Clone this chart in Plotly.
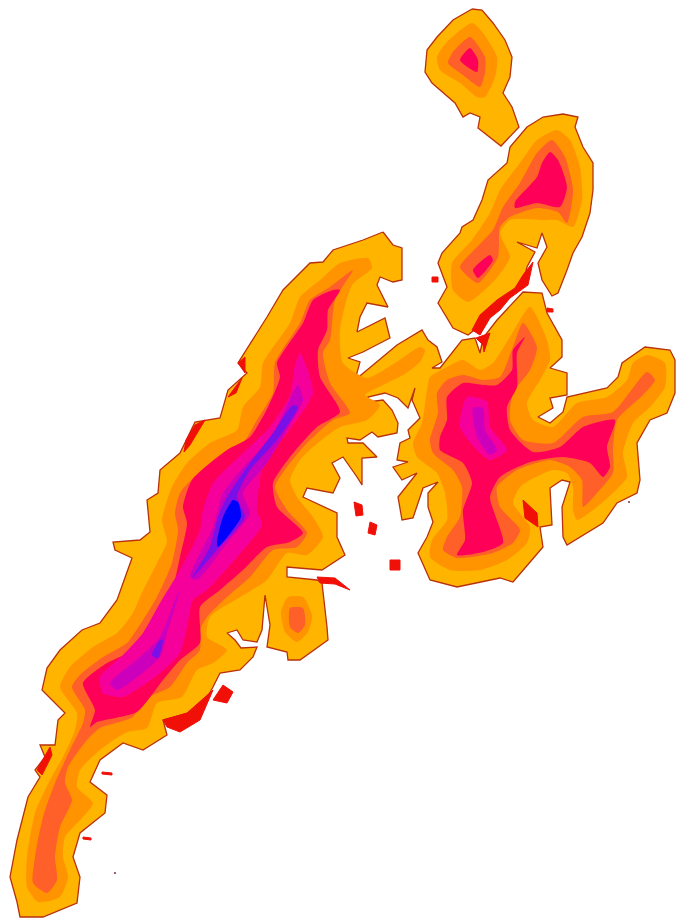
import plotly.graph_objects as go

YELLOW, ORANGE, EMBER, CRIMSON, PINK, PLUM, INDIGO, BLUE, RED = (
    "#FFB400", "#FF9400", "#FF5F28", "#FF0058", "#F5009A", "#CC00BC", "#7A10E8", "#0000FF", "#F01008")
EDGE = "#B8300C"

top_coast = [(472,9),(482,10),(493,23),(505,40),(512,57),(510,77),(503,93),(512,107),(519,127),(501,146),(478,128),(480,117),(470,113),(463,117),(455,103),(432,83),(425,72),(427,50),(437,37),(453,20)]
top_orange = [(472,23),(483,33),(497,57),(495,77),(485,97),(477,97),(460,83),(440,70),(437,57),(447,42)]
top_ember = [(470,37),(485,57),(485,73),(480,87),(463,75),(448,63),(453,52)]
top_crimson = [(470,48),(478,60),(477,72),(460,60)]

north_coast = [(563,114),(578,117),(575,127),(583,147),(593,163),(593,190),(590,213),(582,237),(573,253),(567,270),(558,293),(552,296),(542,280),(538,263),(547,247),(542,233),(537,248),(517,242),(535,252),(527,267),(523,283),(503,300),(487,320),(468,335),(453,328),(438,303),(447,287),(438,263),(442,253),(460,233),(462,227),(473,220),(482,200),(488,180),(507,163),(510,147),(527,127),(543,117)]
north_orange = [(557,130),(570,140),(580,167),(582,200),(573,227),(557,220),(540,220),(510,220),(500,233),(510,257),(495,280),(468,302),(453,290),(452,263),(472,240),(490,213),(500,190),(520,163),(537,140)]
north_ember = [(552,140),(565,157),(573,190),(567,223),(558,212),(537,208),(510,217),(500,227),(498,257),(478,283),(460,267),(477,247),(493,230),(503,207),(520,183),(537,153)]
north_crimson_a = [(550,152),(558,160),(567,187),(560,207),(537,203),(515,208),(515,202),(537,177),(542,163)]
north_crimson_b = [(490,255),(493,260),(478,278),(473,270)]

main_coast = [(383,232),(393,245),(402,248),(402,280),(393,282),(380,277),(377,285),(388,307),(367,303),(360,317),(357,332),(385,318),(390,338),(363,352),(348,358),(360,362),(355,380),(377,362),(397,345),(422,330),(428,340),(437,347),(442,362),(432,368),(440,368),(462,340),(475,338),(480,353),(483,338),(497,320),(523,292),(542,293),(547,313),(562,340),(562,357),(550,368),(567,373),(567,395),(550,398),(553,408),(538,417),(550,423),(563,412),(567,397),(607,388),(618,377),(622,363),(645,347),(670,350),(675,360),(675,393),(667,413),(650,420),(637,443),(640,480),(637,493),(617,503),(603,523),(567,545),(563,537),(562,507),(570,482),(562,480),(550,488),(552,525),(540,527),(543,547),(513,582),(500,578),(457,587),(430,580),(418,553),(427,537),(433,522),(428,507),(428,493),(438,482),(423,488),(413,518),(402,520),(398,497),(417,473),(402,480),(393,467),(408,462),(397,460),(400,443),(410,438),(408,430),(420,418),(412,400),(415,388),(408,408),(398,398),(385,393),(368,397),(368,402),(383,400),(392,410),(398,423),(397,433),(378,437),(372,432),(360,440),(347,438),(348,443),(363,443),(377,457),(362,458),(362,485),(357,477),(343,457),(332,463),(340,478),(333,493),(307,488),(303,497),(337,513),(337,537),(345,555),(322,570),(287,567),(287,577),(317,580),(322,583),(327,627),(328,640),(300,660),(288,660),(287,652),(267,647),(270,625),(265,595),(262,630),(257,642),(243,640),(237,630),(227,633),(235,640),(241,648),(257,647),(253,657),(240,670),(220,673),(213,687),(200,710),(163,720),(167,735),(143,750),(123,743),(100,760),(90,782),(107,795),(105,813),(80,833),(73,857),(80,877),(77,903),(43,917),(20,917),(17,902),(10,877),(17,840),(28,797),(40,777),(35,770),(45,757),(40,745),(55,745),(58,720),(65,713),(42,690),(47,668),(60,650),(82,630),(100,623),(117,600),(132,558),(115,550),(113,542),(140,540),(150,532),(147,500),(158,493),(160,470),(180,453),(195,422),(220,418),(228,390),(247,373),(238,363),(267,317),(283,290),(310,263),(323,262),(333,250),(363,240)]
main_orange = [(368,258),(372,268),(352,285),(340,330),(343,363),(367,378),(395,363),(420,347),(425,350),(420,362),(403,375),(383,385),(365,395),(380,405),(367,420),(340,427),(313,447),(300,460),(290,480),(297,497),(313,517),(323,537),(307,555),(287,553),(267,580),(247,593),(210,617),(207,637),(227,650),(213,663),(197,670),(182,697),(157,703),(147,728),(127,732),(100,750),(80,770),(77,787),(93,803),(83,817),(65,837),(63,857),(68,877),(60,897),(38,902),(27,887),(27,857),(35,813),(50,780),(63,757),(75,730),(77,713),(60,687),(70,667),(93,647),(117,633),(133,613),(140,597),(157,563),(167,542),(162,520),(172,487),(187,463),(210,443),(237,430),(243,407),(260,387),(263,363),(290,323),(300,297),(320,280),(340,263)]
main_ember = [(353,270),(335,300),(330,340),(323,353),(330,383),(350,413),(333,420),(307,443),(287,467),(275,487),(287,510),(307,533),(297,547),(273,550),(250,577),(227,597),(207,617),(200,630),(200,650),(187,663),(170,687),(143,700),(133,717),(100,728),(87,740),(68,767),(65,783),(72,800),(60,827),(55,857),(57,880),(47,893),(33,883),(35,857),(43,817),(55,783),(70,750),(83,723),(85,710),(72,687),(80,675),(103,657),(127,643),(143,620),(157,597),(172,563),(178,530),(175,513),(180,493),(193,478),(217,457),(243,443),(257,420),(273,393),(275,363),(300,323),(310,300),(330,287)]
main_crimson = [(340,290),(328,310),(327,330),(318,350),(320,377),(340,412),(317,427),(290,457),(273,483),(277,507),(303,533),(290,542),(267,547),(243,570),(220,590),(200,607),(200,643),(180,660),(163,680),(137,712),(97,722),(90,727),(95,710),(83,683),(107,663),(133,650),(147,627),(170,597),(180,557),(187,523),(183,507),(192,480),(227,450),(250,437),(268,407),(280,377),(277,363),(303,323),(313,300),(333,290)]
main_pink = [(300,353),(313,393),(287,433),(263,467),(257,510),(262,525),(237,557),(207,590),(193,600),(187,627),(180,653),(160,673),(123,697),(103,693),(100,677),(123,655),(143,633),(160,603),(180,570),(200,530),(203,510),(213,483),(243,453),(270,427),(290,395),(295,365)]
main_plum_a = [(298,385),(303,400),(287,430),(267,463),(243,493),(250,513),(227,543),(197,580),(190,577),(213,527),(223,493),(247,463),(270,440)]
main_plum_b = [(180,590),(167,633),(160,657),(117,690),(110,683),(140,657),(160,637),(175,600)]
main_indigo_a = [(298,407),(277,440),(250,470),(237,497),(245,517),(217,550),(192,578),(210,547),(218,517),(227,497),(250,463),(273,433),(293,405)]
main_indigo_b = [(163,640),(158,658),(152,655),(160,640)]
main_blue = [(233,500),(238,502),(241,517),(218,547),(217,542),(223,517)]

east_orange = [(530,307),(547,340),(550,360),(540,380),(527,403),(533,420),(553,427),(577,403),(607,397),(627,380),(633,363),(647,355),(665,363),(665,387),(650,407),(633,423),(623,453),(627,477),(613,493),(593,510),(577,520),(573,510),(573,487),(567,473),(553,470),(530,480),(520,487),(513,503),(530,527),(527,543),(507,560),(480,570),(450,570),(430,557),(432,540),(447,520),(445,493),(437,473),(417,457),(413,443),(422,423),(427,390),(430,377),(447,367),(463,360),(480,370),(493,363),(510,337)]
east_ember = [(523,323),(537,347),(530,370),(513,393),(510,420),(523,440),(553,443),(583,417),(613,412),(647,372),(655,380),(643,395),(617,420),(613,450),(613,473),(597,493),(583,507),(582,480),(570,467),(550,460),(517,470),(497,487),(500,507),(520,530),(513,543),(493,553),(457,558),(443,550),(447,537),(460,517),(462,487),(453,470),(433,453),(430,440),(438,413),(437,393),(447,380),(463,375),(483,380),(500,377),(513,347)]
east_crimson = [(525,337),(517,353),(517,387),(507,407),(510,430),(533,452),(560,447),(583,427),(615,420),(607,447),(610,467),(603,477),(590,463),(563,457),(530,462),(500,477),(490,497),(503,543),(483,552),(457,555),(465,540),(463,510),(472,483),(463,463),(440,450),(440,437),(447,420),(447,397),(463,383),(483,385),(497,385),(512,370),(513,350)]
east_pink = [(467,397),(487,402),(490,427),(507,450),(490,460),(477,450),(460,427)]
east_plum = [(473,408),(483,408),(485,430),(497,450),(490,455),(477,437)]

lobe_orange = [(288,597),(303,597),(312,615),(308,632),(297,642),(285,632),(281,612)]
lobe_ember = [(290,608),(303,608),(305,625),(298,633),(290,627)]

red_patches = [
    [(163,720),(187,713),(213,690),(200,720),(180,732),(167,727)],
    [(223,685),(233,692),(227,703),(213,700)],
    [(354,502),(362,505),(363,515),(356,516)],
    [(370,522),(377,525),(375,535),(368,533)],
    [(390,560),(400,560),(400,570),(390,570)],
    [(317,577),(335,578),(350,590),(335,584),(320,583)],
    [(37,770),(50,747),(52,755),(42,775)],
    [(238,363),(245,357),(245,373)],
    [(228,397),(237,385),(242,378),(236,393)],
    [(184,452),(186,440),(195,425),(205,420),(190,445)],
    [(102,772),(112,773),(112,775),(102,774)],
    [(83,837),(91,838),(91,840),(83,839)],
    [(432,277),(438,277),(438,282),(432,282)],
    [(547,308),(553,309),(553,312),(547,312)],
    [(523,500),(537,513),(538,527),(525,518)],
    [(533,262),(528,285),(510,298),(500,310),(490,318),(480,335),(472,330),(480,315),(497,300),(515,288),(523,275)],
    [(483,345),(476,338),(490,333),(484,352)],
]
specks_x = [115, 629]
specks_y = [873, 502]

layers = [
    (top_coast, YELLOW, True), (north_coast, YELLOW, True), (main_coast, YELLOW, True),
    (top_orange, ORANGE, False), (north_orange, ORANGE, False), (main_orange, ORANGE, False), (east_orange, ORANGE, False), (lobe_orange, ORANGE, False),
    (top_ember, EMBER, False), (north_ember, EMBER, False), (main_ember, EMBER, False), (east_ember, EMBER, False), (lobe_ember, EMBER, False),
    (top_crimson, CRIMSON, False), (north_crimson_a, CRIMSON, False), (north_crimson_b, CRIMSON, False), (main_crimson, CRIMSON, False), (east_crimson, CRIMSON, False),
    (main_pink, PINK, False), (east_pink, PINK, False),
    (main_plum_a, PLUM, False), (main_plum_b, PLUM, False), (east_plum, PLUM, False),
    (main_indigo_a, INDIGO, False), (main_indigo_b, INDIGO, False),
    (main_blue, BLUE, False),
]

fig = go.Figure()
for poly, colour, edged in layers:
    fig.add_trace(go.Scatter(
        x=[p[0] for p in poly] + [poly[0][0]], y=[p[1] for p in poly] + [poly[0][1]],
        mode="lines", fill="toself", fillcolor=colour,
        line=dict(color=EDGE if edged else colour, width=1.3 if edged else 0,
                  shape="linear" if edged else "spline", smoothing=0.6),
        hoverinfo="skip", showlegend=False))
for poly in red_patches:
    fig.add_trace(go.Scatter(
        x=[p[0] for p in poly] + [poly[0][0]], y=[p[1] for p in poly] + [poly[0][1]],
        mode="lines", fill="toself", fillcolor=RED,
        line=dict(color=RED, width=1), hoverinfo="skip", showlegend=False))
fig.add_trace(go.Scatter(x=specks_x, y=specks_y, mode="markers",
    marker=dict(color="#803040", size=2), hoverinfo="skip", showlegend=False))

fig.update_layout(width=676, height=921, margin=dict(l=0, r=0, t=0, b=0),
    paper_bgcolor="white", plot_bgcolor="white",
    xaxis=dict(range=[0, 676], visible=False),
    yaxis=dict(range=[921, 0], visible=False))
fig.write_html("out.html", config=dict(displayModeBar=False),
    post_script="document.body.style.margin='0';document.body.style.overflow='hidden';")
